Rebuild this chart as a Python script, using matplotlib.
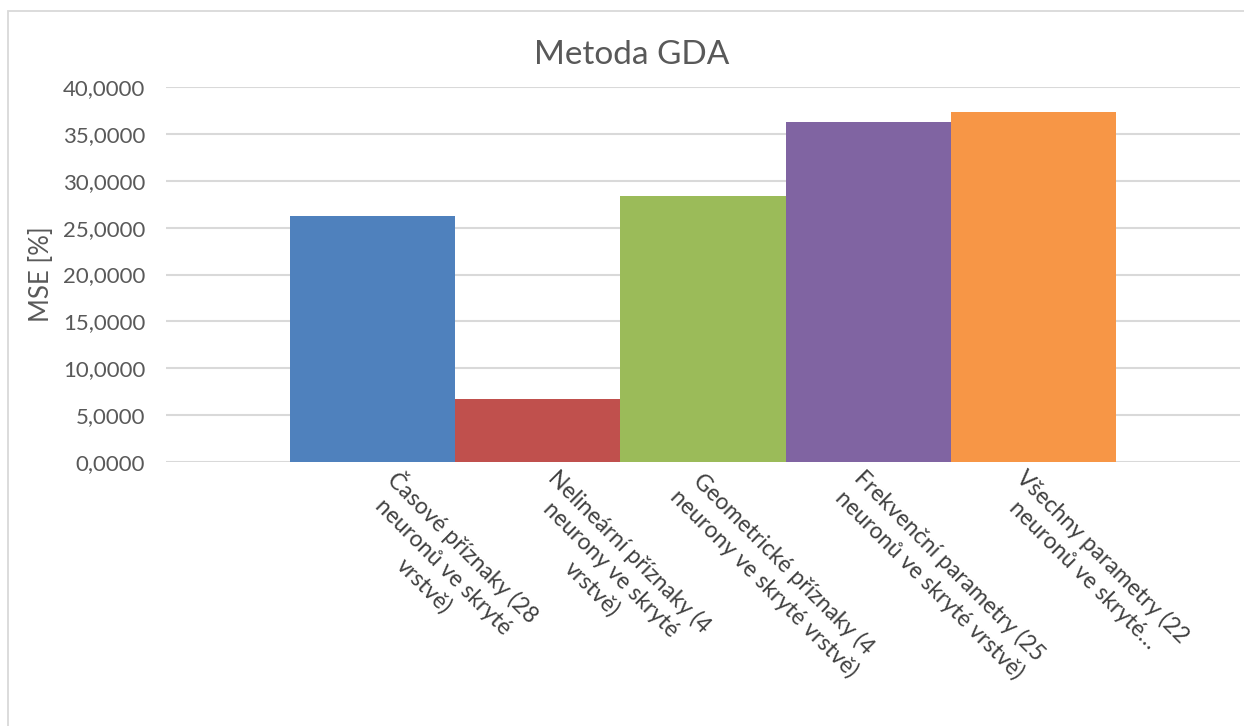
import matplotlib
matplotlib.use("Agg")
import matplotlib.pyplot as plt
import matplotlib.transforms as mtransforms
from matplotlib.patches import Rectangle

plt.rcParams['font.family'] = ['Lato', 'DejaVu Sans']

title = "Metoda GDA"
ylabel = "MSE [%]"
categories = [
    "Časové příznaky (28\nneuronů ve skryté\nvrstvě)",
    "Nelineární příznaky (4\nneurony ve skryté\nvrstvě)",
    "Geometrické příznaky (4\nneurony ve skryté vrstvě)",
    "Frekvenční parametry (25\nneuronů ve skryté vrstvě)",
    "Všechny parametry (22\nneuronů ve skryté…",
]
values = [26.2, 6.75, 28.35, 36.3, 37.3]
colors = ["#4F81BD", "#C0504D", "#9BBB59", "#8064A2", "#F79646"]
yticks = [0, 5, 10, 15, 20, 25, 30, 35, 40]
ytick_labels = ["0,0000", "5,0000", "10,0000", "15,0000", "20,0000",
                "25,0000", "30,0000", "35,0000", "40,0000"]
# label anchor nudges in pixels (horizontal), relative to category centre
label_dx = [28, 22, -2, -3, -6]

W, H = 1244, 726
fig = plt.figure(figsize=(W / 100, H / 100), dpi=100)
fig.patch.set_facecolor("white")

# chart border
fig.add_artist(Rectangle((8 / W, -0.05), 1.2, (H - 11) / H + 0.05, transform=fig.transFigure,
                         fill=False, edgecolor="#D9D9D9", linewidth=1.3))

left, right = 166 / W, 1240 / W
bottom, top = (H - 462) / H, (H - 87) / H
ax = fig.add_axes([left, bottom, right - left, top - bottom])

x = list(range(len(values)))
ax.bar(x, values, width=1.0, color=colors, zorder=3)
ax.set_xlim(-1.25, 5.25)
ax.set_ylim(0, 40)
ax.set_yticks(yticks)
ax.set_yticklabels(ytick_labels, fontsize=16, color="#595959")
ax.tick_params(axis='y', length=0, pad=15)
ax.set_xticks([])
for s in ax.spines.values():
    s.set_visible(False)
ax.yaxis.grid(True, color="#D9D9D9", linewidth=1.5, zorder=0)
ax.set_axisbelow(True)

ax.set_ylabel(ylabel, fontsize=18.5, color="#595959", labelpad=6)

fig.text(632 / W, (H - 55) / H, title, ha="center", va="center", fontsize=24, color="#595959")

for i, (lab, dx) in enumerate(zip(categories, label_dx)):
    tr = ax.get_xaxis_transform() + mtransforms.ScaledTranslation(dx / 100, -4 / 100, fig.dpi_scale_trans)
    ax.text(i, 0, lab, transform=tr, rotation=-45, rotation_mode="anchor",
            ha="left", va="top", multialignment="center", fontsize=16.5,
            color="#404040", linespacing=1.3)

fig.savefig("out.png", dpi=100)
